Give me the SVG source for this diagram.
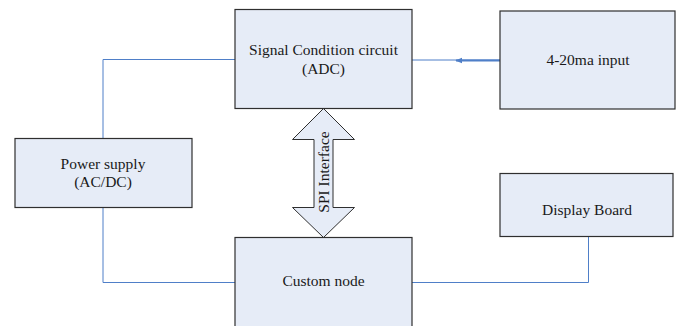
<svg xmlns="http://www.w3.org/2000/svg" width="676" height="326" viewBox="0 0 676 326">
  <style>
    .box { fill: #e6ecf7; stroke: #2f2f2f; stroke-width: 1.2; }
    .lbl { font-family: "Liberation Serif", "Times New Roman", serif; font-size: 15.5px; fill: #1a1a1a; text-anchor: middle; }
    .wire { fill: none; stroke: #4f7fc8; stroke-width: 1; }
  </style>
  <defs>
    <marker id="tip" viewBox="0 0 10 10" refX="9" refY="5" markerWidth="7" markerHeight="7" orient="auto" markerUnits="userSpaceOnUse">
      <path d="M0,1 L10,5 L0,9 Z" fill="#4f7fc8"/>
    </marker>
  </defs>

  <rect x="0" y="0" width="676" height="326" fill="#ffffff"/>

  <!-- connectors -->
  <g id="connectors">
    <path class="wire" d="M103,138 V59.5 H235"/>
    <path class="wire" d="M103,207.5 V282.5 H235"/>
    <path class="wire" d="M412,282.5 H588.5 V237"/>
    <path class="wire" d="M500,60 H412"/>
    <path d="M500,60.5 H456" fill="none" stroke="#4f7fc8" stroke-width="1.8" marker-end="url(#tip)"/>
    <!-- SPI double-headed block arrow -->
    <g id="spi">
      <path d="M323.5,108.5 L292.5,139.5 L314,139.5 L314,207.5 L292.5,207.5 L323.5,237.5 L354.5,207.5 L333,207.5 L333,139.5 L354.5,139.5 Z" fill="#e6ecf7" stroke="#2f2f2f" stroke-width="1"/>
      <text class="lbl" transform="translate(329,172) rotate(-90)">SPI Interface</text>
    </g>
  </g>

  <g id="signal">
    <rect class="box" x="235" y="9.5" width="177" height="99"/>
    <text class="lbl" x="323.5" y="55">Signal Condition circuit</text>
    <text class="lbl" x="323.5" y="74">(ADC)</text>
  </g>

  <g id="input">
    <rect class="box" x="500" y="11" width="175" height="98"/>
    <text class="lbl" x="588" y="65">4-20ma input</text>
  </g>

  <g id="power">
    <rect class="box" x="15" y="138.5" width="177" height="69"/>
    <text class="lbl" x="103" y="169">Power supply</text>
    <text class="lbl" x="103" y="187">(AC/DC)</text>
  </g>

  <g id="display">
    <rect class="box" x="500" y="173.5" width="173" height="63"/>
    <text class="lbl" x="587" y="215">Display Board</text>
  </g>

  <g id="custom">
    <rect class="box" x="235" y="237.5" width="177" height="100"/>
    <text class="lbl" x="323.5" y="286">Custom node</text>
  </g>
</svg>
